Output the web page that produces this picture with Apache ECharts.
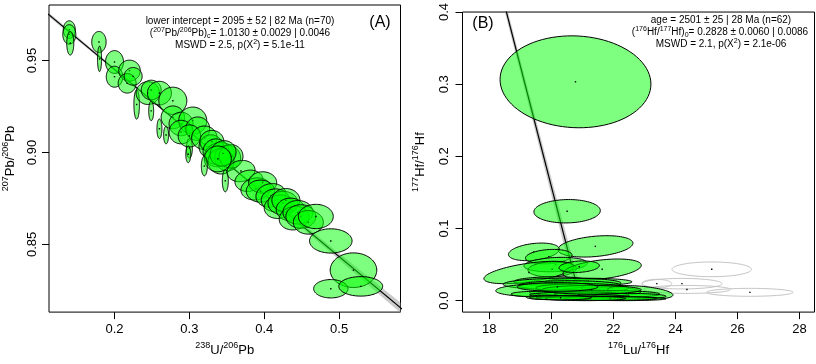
<!DOCTYPE html>
<html><head><meta charset="utf-8">
<script src="https://cdn.jsdelivr.net/npm/echarts@6/dist/echarts.min.js"></script>
<style>html,body{margin:0;padding:0;background:#fff}#c{width:816px;height:364px}</style>
</head><body><div id="c"></div>
<script>
// ---------- Panel A: U-Pb (Tera-Wasserburg) ----------
const aU     = [0.1396,0.1396,0.1409,0.1792,0.1800,0.2000,0.2000,0.2200,0.2169,0.2249,0.2296,0.2445,0.2490,0.2600,0.2779,0.2490,0.2600,0.2689,0.2779,0.2889,0.3045,0.2889,0.3112,0.3000,0.3000,0.3200,0.3289,0.3300,0.3400,0.3356,0.3512,0.3423,0.3556,0.3450,0.3380,0.2985,0.3200,0.3480,0.3689,0.3796,0.3889,0.3979,0.3950,0.4089,0.4150,0.4200,0.4250,0.4289,0.4350,0.4400,0.4450,0.4489,0.4589,0.4689,0.4889,0.5192,0.4889,0.5289];
const aUerr  = [0.0080,0.0087,0.0047,0.0096,0.0027,0.0120,0.0110,0.0144,0.0120,0.0120,0.0037,0.0156,0.0133,0.0160,0.0187,0.0033,0.0033,0.0033,0.0156,0.0160,0.0187,0.0160,0.0160,0.0040,0.0150,0.0170,0.0160,0.0160,0.0200,0.0173,0.0173,0.0173,0.0160,0.0173,0.0180,0.0033,0.0040,0.0040,0.0187,0.0187,0.0200,0.0187,0.0190,0.0200,0.0190,0.0200,0.0200,0.0187,0.0190,0.0200,0.0200,0.0200,0.0200,0.0233,0.0284,0.0311,0.0229,0.0293];
const aPb    = [0.9668,0.9642,0.9594,0.9601,0.9509,0.9492,0.9412,0.9445,0.9376,0.9414,0.9261,0.9323,0.9340,0.9323,0.9281,0.9226,0.9129,0.9095,0.9191,0.9155,0.9173,0.9111,0.9129,0.9023,0.9090,0.9080,0.9032,0.9060,0.8988,0.9005,0.8970,0.8952,0.8979,0.8995,0.8965,0.8990,0.8926,0.8846,0.8899,0.8846,0.8802,0.8837,0.8790,0.8767,0.8740,0.8705,0.8725,0.8740,0.8690,0.8643,0.8675,0.8652,0.8620,0.8652,0.8519,0.8360,0.8259,0.8272];
const aPberr = [0.0048,0.0053,0.0064,0.0057,0.0069,0.0062,0.0057,0.0057,0.0053,0.0048,0.0080,0.0062,0.0053,0.0064,0.0074,0.0053,0.0053,0.0048,0.0062,0.0064,0.0074,0.0064,0.0064,0.0053,0.0060,0.0064,0.0064,0.0060,0.0066,0.0069,0.0069,0.0069,0.0064,0.0069,0.0070,0.0045,0.0053,0.0060,0.0058,0.0058,0.0060,0.0058,0.0060,0.0064,0.0062,0.0064,0.0064,0.0064,0.0062,0.0064,0.0064,0.0064,0.0064,0.0066,0.0066,0.0094,0.0050,0.0053];
const aRho   = [0,0,0,0,0,0,0,0,0,0,0,0,0,0,0,0,0,0,0,0,0,0,0,0,0,0,0,0,0.1,0,0,0,0,0.1,0,0,0,0,0.1,0.1,0.1,0,0,0.1,0,0.1,0,0,0,0.1,0,0,0,0,0,0,0,0];
const aLineX = [0.10, 0.60];
const aLineY = [0.9791, 0.8095];
const aBandX = [0.10, 0.20, 0.30, 0.40, 0.50, 0.60];
const aBandW = [0.0012, 0.0007, 0.0005, 0.0009, 0.0018, 0.0030];
const aXTicks = [0.2, 0.3, 0.4, 0.5];
const aYTicks = [0.85, 0.90, 0.95];

// ---------- Panel B: Lu-Hf (inverse isochron) ----------
const bLu     = [20.78,20.51,21.42,19.44,19.92,20.14,20.03,19.28,21.64,20.90,20.00,21.20,20.35,20.60,19.71,21.58,21.00,22.87,20.50,19.60,21.80,20.90,22.50,19.90,21.50,20.60,22.30,21.90,21.10,20.30,21.30,20.20];
const bLuErr  = [2.43,1.07,1.21,0.82,0.75,1.02,0.78,1.45,1.26,0.65,1.20,1.40,1.90,1.66,1.50,1.31,1.50,1.05,1.20,0.90,1.70,1.60,1.20,0.70,1.00,1.10,1.40,1.50,1.30,1.00,1.60,1.30];
const bHf     = [0.3033,0.1239,0.0752,0.0676,0.0610,0.0500,0.0434,0.0390,0.0434,0.0470,0.0270,0.0260,0.0234,0.0210,0.0146,0.0125,0.0175,0.0115,0.0110,0.0090,0.0090,0.0080,0.0060,0.0045,0.0050,0.0035,0.0025,0.0030,0.0030,0.0040,0.0150,0.0190];
const bHfErr  = [0.0637,0.0162,0.0148,0.0122,0.0100,0.0100,0.0105,0.0155,0.0143,0.0080,0.0060,0.0050,0.0078,0.0066,0.0090,0.0066,0.0060,0.0093,0.0040,0.0040,0.0050,0.0040,0.0040,0.0030,0.0030,0.0025,0.0025,0.0028,0.0030,0.0030,0.0060,0.0060];
const bRho    = [-0.05,0.05,0.3,0.3,0.2,0.2,0.1,0.55,0.4,0.2,0.1,0,0.1,0,0.1,0,0,-0.4,0,0,0,0,0,0,0,0,0,0,0,0,0,0];
const bOutLu    = [25.17,24.21,24.37,26.40,23.40];
const bOutLuErr = [1.28,1.29,1.40,1.39,0.48];
const bOutHf    = [0.0434,0.0235,0.0155,0.0115,0.0235];
const bOutHfErr = [0.0102,0.0073,0.0055,0.0055,0.0060];
const bOutRho   = [0,0,0,0,0];
const bLineX = [18.40, 20.95];
const bLineY = [0.4259, 0.0];
const bBandY = [0.00, 0.10, 0.20, 0.30, 0.43];
const bBandW = [0.10, 0.08, 0.065, 0.055, 0.05];
const bXTicks = [18, 20, 22, 24, 26, 28];
const bYTicks = [0.0, 0.1, 0.2, 0.3, 0.4];

const FONT = '"Liberation Sans", Arial, Helvetica, sans-serif';

function zip5(a,b,c,d,e){ return a.map((v,i)=>[v,b[i],c[i],d[i],e[i]]); }

function ellipseRender(fill, stroke){
  return function(params, api){
    const cx = api.value(0), sx = api.value(1), cy = api.value(2), sy = api.value(3), r = api.value(4);
    const q = Math.sqrt(1 - r*r);
    const pts = [];
    for (let i = 0; i < 90; i++){
      const t = i / 90 * 2 * Math.PI;
      pts.push(api.coord([cx + sx*Math.cos(t), cy + sy*(r*Math.cos(t) + q*Math.sin(t))]));
    }
    const c = api.coord([cx, cy]);
    return {type:'group', children:[
      {type:'polygon', shape:{points:pts}, style:{fill:fill, stroke:stroke, lineWidth:1}},
      {type:'rect', shape:{x:c[0]-0.7, y:c[1]-0.7, width:1.4, height:1.4}, style:{fill:'#000'}}
    ]};
  };
}

function lineAt(xs, ys, x){ return ys[0] + (ys[1]-ys[0])*(x-xs[0])/(xs[1]-xs[0]); }

const bandA = (function(){
  const up = aBandX.map((x,i)=>[x, lineAt(aLineX,aLineY,x)+aBandW[i]]);
  const lo = aBandX.map((x,i)=>[x, lineAt(aLineX,aLineY,x)-aBandW[i]]).reverse();
  return up.concat(lo);
})();
const bandB = (function(){
  const lx = y => lineAt(bLineY, bLineX, y);
  const rt = bBandY.map((y,i)=>[lx(y)+bBandW[i], y]);
  const lt = bBandY.map((y,i)=>[lx(y)-bBandW[i], y]).reverse();
  return rt.concat(lt);
})();

function polyRender(poly){
  return function(params, api){
    return {type:'polygon', shape:{points: poly.map(p=>api.coord(p))}, style:{fill:'rgba(140,140,140,0.45)'}};
  };
}

function valAxis(opt){
  return Object.assign({
    type:'value', splitLine:{show:false},
    axisLine:{show:false, onZero:false},
    axisTick:{show:true, inside:false, length:7, lineStyle:{color:'#000', width:1}, customValues: opt.ticks},
    axisLabel:{customValues: opt.ticks, formatter: opt.fmt, color:'#000', fontSize:13, fontFamily:FONT, margin: opt.margin, rotate: opt.rotate||0},
    nameLocation:'middle', nameGap: opt.nameGap, nameRotate: opt.nameRotate||0,
    nameTextStyle:{color:'#000', fontSize:13, fontFamily:FONT, lineHeight:18,
      rich:{s:{fontSize:9, fontFamily:FONT, color:'#000', verticalAlign:'top'}}}
  }, opt.extra);
}

const richAnn = {
  s:{fontSize:7, fontFamily:FONT, fill:'#000', verticalAlign:'top'},
  b:{fontSize:7, fontFamily:FONT, fill:'#000', verticalAlign:'bottom'}
};
function ann(x, y, text, size){
  return {type:'text', x:x, y:y, silent:true, z:100,
    style:{text:text, fontSize:size||10, fontFamily:FONT, fill:'#000', align:'center', verticalAlign:'middle', lineHeight:13, rich:richAnn}};
}

const chart = echarts.init(document.getElementById('c'), null, {renderer:'canvas'});
chart.setOption({
  animation:false,
  backgroundColor:'#fff',
  grid:[
    {left:47.5, top:5, width:353, height:314.5, show:true, borderColor:'#000', borderWidth:1, backgroundColor:'transparent'},
    {left:462.5, top:6, width:352, height:313.5, show:true, borderColor:'#000', borderWidth:1, backgroundColor:'transparent'}
  ],
  xAxis:[
    valAxis({ticks:aXTicks, fmt:v=>v.toFixed(1), margin:11, nameGap:28,
      extra:{gridIndex:0, min:0.1125, max:0.582, name:'{s|238}U/{s|206}Pb'}}),
    valAxis({ticks:bXTicks, fmt:v=>String(Math.round(v)), margin:11, nameGap:28,
      extra:{gridIndex:1, min:17.14, max:28.48, name:'{s|176}Lu/{s|176}Hf'}})
  ],
  yAxis:[
    valAxis({ticks:aYTicks, fmt:v=>v.toFixed(2), margin:10, rotate:90, nameGap:30, nameRotate:90,
      extra:{gridIndex:0, min:0.8132, max:0.9802, name:'{s|207}Pb/{s|206}Pb'}}),
    valAxis({ticks:bYTicks, fmt:v=>v.toFixed(1), margin:12, rotate:90, nameGap:33, nameRotate:90,
      extra:{gridIndex:1, min:-0.0159, max:0.4, name:'{s|177}Hf/{s|176}Hf'}})
  ],
  series:[
    {type:'custom', xAxisIndex:0, yAxisIndex:0, clip:true, z:1, silent:true, data:[[0,0]], renderItem:polyRender(bandA)},
    {type:'line', xAxisIndex:0, yAxisIndex:0, clip:true, z:2, silent:true, showSymbol:false, symbol:'none',
      lineStyle:{color:'#000', width:1.2}, data:aLineX.map((x,i)=>[x,aLineY[i]])},
    {type:'custom', xAxisIndex:0, yAxisIndex:0, clip:true, z:3, silent:true, encode:{x:0, y:2},
      data:zip5(aU,aUerr,aPb,aPberr,aRho), renderItem:ellipseRender('rgba(0,255,0,0.5)','#000')},

    {type:'custom', xAxisIndex:1, yAxisIndex:1, clip:true, z:1, silent:true, data:[[20,0.1]], renderItem:polyRender(bandB)},
    {type:'line', xAxisIndex:1, yAxisIndex:1, clip:true, z:2, silent:true, showSymbol:false, symbol:'none',
      lineStyle:{color:'#000', width:1.2}, data:bLineX.map((x,i)=>[x,bLineY[i]])},
    {type:'custom', xAxisIndex:1, yAxisIndex:1, clip:true, z:3, silent:true, encode:{x:0, y:2},
      data:zip5(bOutLu,bOutLuErr,bOutHf,bOutHfErr,bOutRho), renderItem:ellipseRender('rgba(0,0,0,0)','#c4c4c4')},
    {type:'custom', xAxisIndex:1, yAxisIndex:1, clip:true, z:3, silent:true, encode:{x:0, y:2},
      data:zip5(bLu,bLuErr,bHf,bHfErr,bRho), renderItem:ellipseRender('rgba(0,255,0,0.5)','#000')}
  ],
  graphic:[
    ann(240, 21.7, 'lower intercept = 2095 ± 52 | 82 Ma (n=70)'),
    ann(240, 33.3, '({s|207}Pb/{s|206}Pb){b|c}= 1.0130 ± 0.0029 | 0.0046'),
    ann(240, 45, 'MSWD = 2.5, p(X{s|2}) = 5.1e-11'),
    ann(380, 22.7, '(A)', 16),
    ann(721, 20.7, 'age = 2501 ± 25 | 28 Ma (n=62)'),
    ann(720, 32.3, '({s|176}Hf/{s|177}Hf){b|0}= 0.2828 ± 0.0060 | 0.0086'),
    ann(721, 44, 'MSWD = 2.1, p(X{s|2}) = 2.1e-06'),
    ann(483, 23.3, '(B)', 16)
  ]
});
</script></body></html>
